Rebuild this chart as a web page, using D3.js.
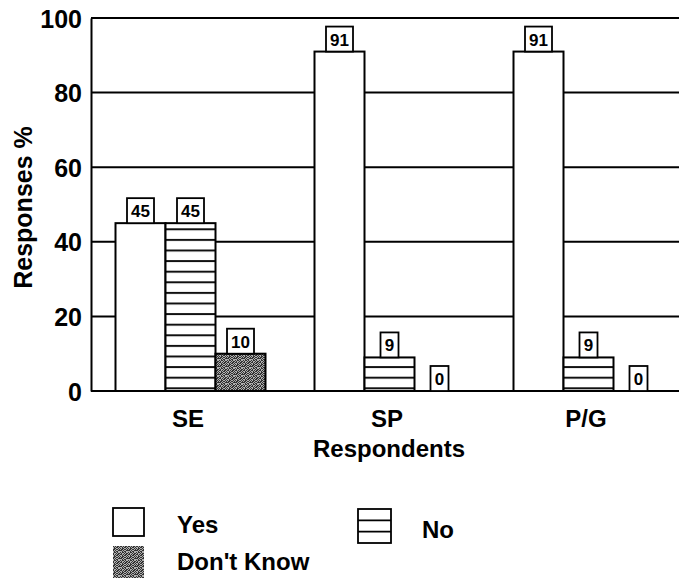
<!DOCTYPE html>
<html>
<head>
<meta charset="utf-8">
<script src="https://cdn.jsdelivr.net/npm/d3@7"></script>
<style>
  html, body { margin: 0; padding: 0; background: #fff; }
  svg { display: block; }
  text { font-family: "Liberation Sans", Arial, Helvetica, sans-serif; font-weight: bold; fill: #000; }
</style>
</head>
<body>
<svg id="chart" width="679" height="579"></svg>
<script>
// Survey responses by respondent group (percent)
const categories = ["SE", "SP", "P/G"];
const seriesNames = ["Yes", "No", "Don't Know"];
const yesValues = [45, 91, 91];
const noValues = [45, 9, 9];
const dontKnowValues = [10, 0, 0];
const yTicks = [0, 20, 40, 60, 80, 100];

const svg = d3.select("#chart");
const W = 679, H = 579;
const plotLeft = 91, plotRight = 688, plotTop = 18, plotBottom = 391;

const x0 = d3.scaleBand().domain(categories).range([plotLeft, plotRight]).paddingInner(0).paddingOuter(0);
const x1 = d3.scaleBand().domain(seriesNames).range([0, x0.bandwidth()]).paddingInner(0).paddingOuter(0.49);
const y = d3.scaleLinear().domain([0, 100]).range([plotBottom, plotTop]);

// ---- fill patterns ----
const defs = svg.append("defs");

const stripe = defs.append("pattern")
  .attr("id", "stripes").attr("patternUnits", "userSpaceOnUse")
  .attr("x", 0).attr("y", 387.3).attr("width", 20).attr("height", 10.6);
stripe.append("rect").attr("width", 20).attr("height", 10.6).attr("fill", "#fff");
stripe.append("rect").attr("x", 0).attr("y", 0).attr("width", 20).attr("height", 2).attr("fill", "#111");

// speckled gray texture for "Don't Know"
const speckleRows = [
  "10110100",
  "01001011",
  "11010110",
  "00101101",
  "10110010",
  "01101101",
  "11010011",
  "00101100"
];
const speck = defs.append("pattern")
  .attr("id", "speckle").attr("patternUnits", "userSpaceOnUse")
  .attr("width", 8).attr("height", 8);
speck.append("rect").attr("width", 8).attr("height", 8).attr("fill", "#b0b0b0");
speckleRows.forEach((row, r) => {
  row.split("").forEach((c, k) => {
    if (c === "1") speck.append("rect").attr("x", k).attr("y", r).attr("width", 1).attr("height", 1).attr("fill", "#333");
  });
});

const fills = { "Yes": "#fff", "No": "url(#stripes)", "Don't Know": "url(#speckle)" };

// ---- gridlines and frame ----
svg.append("g").selectAll("line")
  .data(yTicks.filter(t => t > 0))
  .join("line")
  .attr("x1", plotLeft).attr("x2", W)
  .attr("y1", d => y(d)).attr("y2", d => y(d))
  .attr("stroke", "#000").attr("stroke-width", 2);

// y axis
const yAxis = d3.axisLeft(y).tickValues(yTicks).tickSize(0).tickPadding(9);
const gy = svg.append("g").attr("transform", `translate(${plotLeft},0)`).call(yAxis);
gy.select(".domain").attr("stroke", "#000").attr("stroke-width", 2);
gy.selectAll("text").style("font-size", "25px").attr("dy", "0.36em");

// x baseline
svg.append("line").attr("x1", plotLeft).attr("x2", W).attr("y1", plotBottom).attr("y2", plotBottom)
  .attr("stroke", "#000").attr("stroke-width", 2);

// ---- bars ----
const rows = categories.map((c, i) => ({
  cat: c,
  vals: [
    { key: "Yes", v: yesValues[i] },
    { key: "No", v: noValues[i] },
    { key: "Don't Know", v: dontKnowValues[i] }
  ]
}));

const groups = svg.append("g").selectAll("g")
  .data(rows).join("g")
  .attr("transform", d => `translate(${x0(d.cat)},0)`);

groups.selectAll("rect.bar")
  .data(d => d.vals.filter(v => v.v > 0))
  .join("rect")
  .attr("class", "bar")
  .attr("x", d => x1(d.key))
  .attr("y", d => y(d.v))
  .attr("width", x1.bandwidth())
  .attr("height", d => y(0) - y(d.v))
  .attr("fill", d => fills[d.key])
  .attr("stroke", "#000").attr("stroke-width", 2);

// value boxes above each bar
const labels = groups.selectAll("g.lab")
  .data(d => d.vals)
  .join("g").attr("class", "lab");

labels.each(function(d) {
  const g = d3.select(this);
  const cx = x1(d.key) + x1.bandwidth() / 2;
  const bw = String(d.v).length > 1 ? 27 : 18;
  const bh = 25;
  g.append("rect")
    .attr("x", cx - bw / 2).attr("y", y(d.v) - bh)
    .attr("width", bw).attr("height", bh)
    .attr("fill", "#fff").attr("stroke", "#000").attr("stroke-width", 1.8);
  g.append("text")
    .attr("x", cx).attr("y", y(d.v) - 6)
    .attr("text-anchor", "middle")
    .style("font-size", "17px")
    .text(d.v);
});

// x category labels
svg.append("g").selectAll("text")
  .data(categories).join("text")
  .attr("x", d => x0(d) + x0.bandwidth() / 2 - 2.5)
  .attr("y", 427)
  .attr("text-anchor", "middle")
  .style("font-size", "24px")
  .text(d => d);

// axis titles
svg.append("text").attr("x", 389).attr("y", 457).attr("text-anchor", "middle")
  .style("font-size", "24px").text("Respondents");
svg.append("text")
  .attr("transform", `translate(32,207.5) rotate(-90)`)
  .attr("text-anchor", "middle")
  .style("font-size", "25px").text("Responses %");

// ---- legend ----
const lgYes = svg.append("g");
lgYes.append("rect").attr("x", 113).attr("y", 508).attr("width", 31).attr("height", 28)
  .attr("fill", fills["Yes"]).attr("stroke", "#000").attr("stroke-width", 1.8);
lgYes.append("text").attr("x", 177).attr("y", 533).style("font-size", "24px").text(seriesNames[0]);

const lgNo = svg.append("g");
lgNo.append("rect").attr("x", 358).attr("y", 509).attr("width", 33).attr("height", 34)
  .attr("fill", "#fff").attr("stroke", "#000").attr("stroke-width", 1.8);
lgNo.selectAll("line").data([1, 2]).join("line")
  .attr("x1", 358).attr("x2", 391)
  .attr("y1", k => 509 + k * 34 / 3).attr("y2", k => 509 + k * 34 / 3)
  .attr("stroke", "#000").attr("stroke-width", 1.6);
lgNo.append("text").attr("x", 422).attr("y", 538).style("font-size", "24px").text(seriesNames[1]);

const lgDk = svg.append("g");
lgDk.append("rect").attr("x", 113).attr("y", 546).attr("width", 31).attr("height", 32)
  .attr("fill", fills["Don't Know"]);
lgDk.append("text").attr("x", 177).attr("y", 570).style("font-size", "24px").text(seriesNames[2]);
</script>
</body>
</html>
